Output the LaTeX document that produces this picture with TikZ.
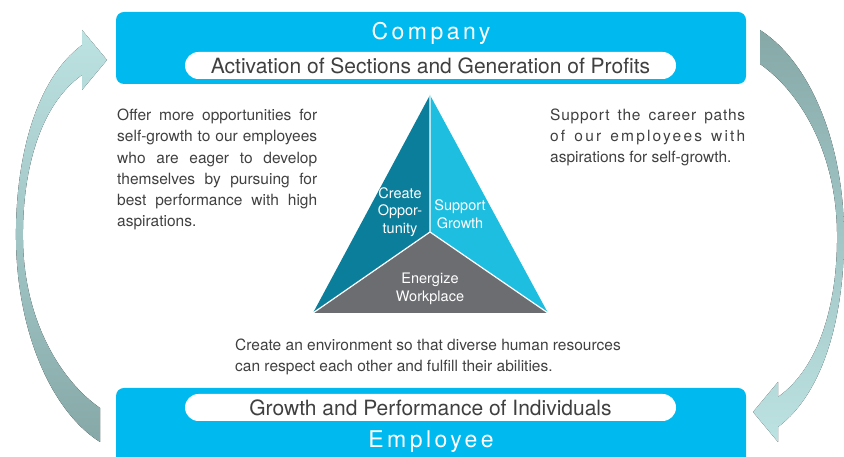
\documentclass[tikz,border=0pt]{standalone}
\usepackage{fontspec}
\setmainfont{TeX Gyre Heros}
\usetikzlibrary{positioning,calc}

\definecolor{boxcyan}{HTML}{00B9EF}
\definecolor{txtgray}{HTML}{404040}
\definecolor{opteal}{HTML}{0B7E9C}
\definecolor{grcyan}{HTML}{1EBEE0}
\definecolor{wpgray}{HTML}{6C6D71}
\definecolor{arrlight}{HTML}{BDE2E2}
\definecolor{arrdark}{HTML}{86A9A8}

\tikzset{
  bigbox/.style={fill=boxcyan, rounded corners=8pt, minimum width=630pt, inner sep=0pt},
  pill/.style={fill=white, rounded corners=13.5pt, minimum width=491pt, minimum height=27pt,
    inner sep=0pt, text=txtgray, font=\fontsize{21}{24}\selectfont},
  title/.style={text=white, inner sep=0pt, font=\fontsize{23}{26}\selectfont\addfontfeature{LetterSpace=15}},
  body/.style={text=txtgray, inner sep=0pt, align=left, font=\fontsize{15.5}{21.3}\selectfont},
  seg/.style={text=white, inner sep=0pt, align=center, font=\fontsize{14.5}{17.5}\selectfont}
}

% one line stretched to a given width
\newcommand{\jline}[2]{\makebox[#1][s]{#2}}

\begin{document}
\begin{tikzpicture}[x=1pt,y=1pt]
  \useasboundingbox (0,0) rectangle (844,457);

  % the two curved arrows (second one is the first turned round)
  \foreach \ang/\tc/\bc in {0/arrlight/arrdark, 180/arrdark/arrlight}{
    \begin{scope}[rotate around={\ang:(430,221)}]
      \fill[top color=\tc, middle color=arrlight!40!white, bottom color=\bc]
        (82,412) .. controls (35,377) and (15,297) .. (16,217)
        .. controls (17,127) and (50,47) .. (100,15) -- (100,49)
        .. controls (60,77) and (24,137) .. (23,217)
        .. controls (22,287) and (40,352) .. (82,382)
        -- (82,367) -- (107,397) -- (82,427) -- cycle;
    \end{scope}
  }

  % company bar
  \node[bigbox, minimum height=72pt] (company) at (431,409) {};
  \node[title, anchor=base] (companytitle) at (431,417) {Company};
  \node[pill] (profits) at (430.5,391.5) {Activation of Sections and Generation of Profits};

  % employee bar
  \node[bigbox, minimum height=79pt] (employee) at (431,29.5) {};
  \node[pill] (individuals) at (430.5,49.5) {Growth and Performance of Individuals};
  \node[title, anchor=base] (employeetitle) at (431,9) {Employee};

  % triangle
  \coordinate (apex) at (430,362);
  \coordinate (bl) at (313,144);
  \coordinate (br) at (548,144);
  \coordinate (mid) at (430,225);
  \fill[opteal] (apex) -- (mid) -- (bl) -- cycle;
  \fill[grcyan] (apex) -- (br) -- (mid) -- cycle;
  \fill[wpgray] (bl) -- (mid) -- (br) -- cycle;
  \draw[white, line width=1.2pt] (apex) -- (mid) (bl) -- (mid) -- (br);

  \node[seg] (create) at (400,245) {Create\\Oppor-\\tunity};
  \node[seg] (support) at (460,243) {Support\\Growth};
  \node[seg] (energize) at (430,168) {Energize\\Workplace};

  % explanations (base = last line)
  \node[body, anchor=base west] (opptext) at (117,230) {%
    \jline{200pt}{Offer more opportunities for}\\
    \jline{200pt}{self-growth to our employees}\\
    \jline{200pt}{who are eager to develop}\\
    \jline{200pt}{themselves by pursuing for}\\
    \jline{200pt}{best performance with high}\\
    aspirations.};
  \node[body, anchor=base west] (growtext) at (550,294) {%
    {\addfontfeature{LetterSpace=5}\jline{195pt}{Support the career paths}}\\
    {\addfontfeature{LetterSpace=14}\jline{195pt}{of our employees with}}\\
    aspirations for self-growth.};
  \node[body, anchor=base west] (worktext) at (235,85) {%
    Create an environment so that diverse human resources\\
    can respect each other and fulfill their abilities.};
\end{tikzpicture}
\end{document}
